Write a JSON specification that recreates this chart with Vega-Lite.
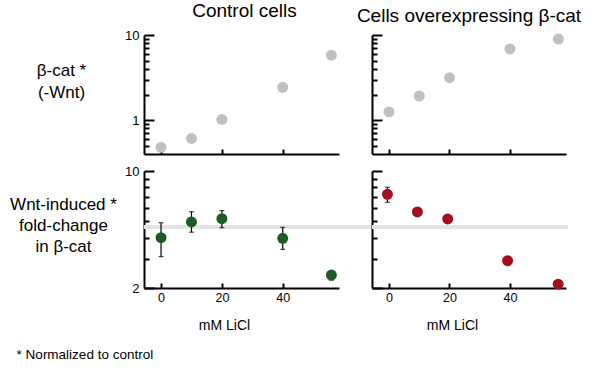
{
  "$schema": "https://vega.github.io/schema/vega-lite/v6.json",
  "background": "white",
  "padding": {"left": 9, "top": 2, "right": 5, "bottom": 5},
  "config": {
    "font": "Liberation Sans",
    "view": {"stroke": null},
    "axis": {"domainColor": "black", "domainWidth": 2, "tickColor": "black", "tickWidth": 2, "labelColor": "black", "labelFontSize": 13, "titleColor": "black", "grid": false, "labelFont": "Liberation Sans", "titleFont": "Liberation Sans", "titleFontWeight": "normal", "labelOverlap": false, "zindex": 1},
    "title": {"font": "Liberation Sans", "fontWeight": "normal", "color": "black"}
  },
  "datasets": {
    "ctrl_basal": [
      {"licl": 0, "bcat": 0.48}, {"licl": 10, "bcat": 0.61}, {"licl": 20, "bcat": 1.02}, {"licl": 40, "bcat": 2.43}, {"licl": 56, "bcat": 5.8}
    ],
    "over_basal": [
      {"licl": 0, "bcat": 1.25}, {"licl": 10, "bcat": 1.92}, {"licl": 20, "bcat": 3.15}, {"licl": 40, "bcat": 6.85}, {"licl": 56, "bcat": 8.97}
    ],
    "ctrl_wnt": [
      {"licl": 0, "fold": 4.0, "lo": 3.08, "hi": 4.91},
      {"licl": 10, "fold": 4.96, "lo": 4.31, "hi": 5.71},
      {"licl": 20, "fold": 5.19, "lo": 4.58, "hi": 5.8},
      {"licl": 40, "fold": 3.96, "lo": 3.4, "hi": 4.61},
      {"licl": 56, "fold": 2.39, "lo": 2.23, "hi": 2.53}
    ],
    "over_wnt": [
      {"licl": -0.5, "fold": 7.26, "lo": 6.5, "hi": 8.0},
      {"licl": 9.4, "fold": 5.69, "lo": 5.6, "hi": 5.8},
      {"licl": 19.4, "fold": 5.17, "lo": 5.1, "hi": 5.25},
      {"licl": 39.2, "fold": 2.91, "lo": 2.86, "hi": 2.97},
      {"licl": 55.9, "fold": 2.11, "lo": 2.05, "hi": 2.2}
    ]
  },
  "title": {"text": "* Normalized to control", "orient": "bottom", "anchor": "start", "frame": "bounds", "fontSize": 13.5, "offset": 16, "dx": 7},
  "spacing": {"row": 17, "column": 33},
  "bounds": "flush",
  "columns": 2,
  "concat": [
    {
      "width": 195, "height": 119,
      "title": {"text": "Control cells", "fontSize": 19, "baseline": "alphabetic", "offset": -7, "dx": 3},
      "data": {"name": "ctrl_basal"},
      "mark": {"type": "circle", "size": 120, "color": "#c0c0c0", "opacity": 1},
      "encoding": {
        "x": {"field": "licl", "type": "quantitative", "scale": {"domain": [-5.6, 58.5], "nice": false, "zero": false}, "axis": {"values": [0, 20, 40], "labels": false, "title": null, "tickSize": -5}},
        "y": {"field": "bcat", "type": "quantitative", "scale": {"type": "log", "domain": [0.4, 10], "nice": false},
          "axis": {"values": [0.5, 0.6, 0.7, 0.8, 0.9, 1, 2, 3, 4, 5, 6, 7, 8, 9, 10],
            "tickSize": {"condition": {"test": "datum.value === 1 || datum.value === 10", "value": -10}, "value": -5},
            "labelExpr": "datum.value === 1 || datum.value === 10 ? datum.label : ''",
            "labelPadding": 15,
            "title": ["β-cat *", "(-Wnt)"], "titleAngle": 0, "titleAlign": "center", "titleBaseline": "alphabetic", "titleX": -83, "titleY": 40, "titleFontSize": 17, "titleLineHeight": 22}}
      }
    },
    {
      "width": 194, "height": 119,
      "title": {"text": "Cells overexpressing β-cat", "fontSize": 19, "baseline": "alphabetic", "offset": -7},
      "data": {"name": "over_basal"},
      "mark": {"type": "circle", "size": 120, "color": "#c0c0c0", "opacity": 1},
      "encoding": {
        "x": {"field": "licl", "type": "quantitative", "scale": {"domain": [-5.6, 58.5], "nice": false, "zero": false}, "axis": {"values": [0, 20, 40], "labels": false, "title": null, "tickSize": -5}},
        "y": {"field": "bcat", "type": "quantitative", "scale": {"type": "log", "domain": [0.4, 10], "nice": false},
          "axis": {"values": [0.5, 0.6, 0.7, 0.8, 0.9, 1, 2, 3, 4, 5, 6, 7, 8, 9, 10],
            "tickSize": {"condition": {"test": "datum.value === 1 || datum.value === 10", "value": -10}, "value": -5},
            "labels": false, "title": null}}
      }
    },
    {
      "width": 195, "height": 117,
      "data": {"name": "ctrl_wnt"},
      "encoding": {
        "x": {"field": "licl", "type": "quantitative", "scale": {"domain": [-5.6, 58.5], "nice": false, "zero": false},
          "axis": {"values": [0, 20, 40], "tickSize": -5, "labelPadding": 8, "labelFontSize": 12.5, "title": "mM LiCl", "titleFontSize": 14, "titleX": 80, "titleY": 41, "titleBaseline": "alphabetic"}}
      },
      "layer": [
        {
          "mark": {"type": "rule", "color": "#e4e4e4", "strokeWidth": 3.5},
          "encoding": {"x": {"datum": -5.6}, "x2": {"datum": 72}, "y": {"datum": 4.65, "type": "quantitative", "scale": {"type": "log", "domain": [2, 10], "nice": false}}}
        },
        {
          "mark": {"type": "rule", "color": "black", "strokeWidth": 1.2},
          "encoding": {"y": {"field": "lo", "type": "quantitative"}, "y2": {"field": "hi"}}
        },
        {
          "mark": {"type": "tick", "orient": "horizontal", "size": 5, "thickness": 1.2, "color": "black"},
          "encoding": {"y": {"field": "lo", "type": "quantitative"}}
        },
        {
          "mark": {"type": "tick", "orient": "horizontal", "size": 5, "thickness": 1.2, "color": "black"},
          "encoding": {"y": {"field": "hi", "type": "quantitative"}}
        },
        {
          "mark": {"type": "circle", "size": 120, "color": "#1d5a24", "opacity": 1},
          "encoding": {"y": {"field": "fold", "type": "quantitative", "scale": {"type": "log", "domain": [2, 10], "nice": false},
            "axis": {"values": [2, 3, 4, 5, 6, 7, 8, 9, 10],
              "tickSize": {"condition": {"test": "datum.value === 2 || datum.value === 10", "value": -10}, "value": -5},
              "labelExpr": "datum.value === 2 || datum.value === 10 ? datum.label : ''",
              "labelPadding": 15,
              "title": ["Wnt-induced *", "fold-change", "in β-cat"], "titleAngle": 0, "titleAlign": "center", "titleBaseline": "alphabetic", "titleX": -81, "titleY": 38, "titleFontSize": 17, "titleLineHeight": 21}}}
        }
      ]
    },
    {
      "width": 194, "height": 117,
      "data": {"name": "over_wnt"},
      "encoding": {
        "x": {"field": "licl", "type": "quantitative", "scale": {"domain": [-5.6, 58.5], "nice": false, "zero": false},
          "axis": {"values": [0, 20, 40], "tickSize": -5, "labelPadding": 8, "labelFontSize": 12.5, "title": "mM LiCl", "titleFontSize": 14, "titleX": 80, "titleY": 41, "titleBaseline": "alphabetic"}}
      },
      "layer": [
        {
          "mark": {"type": "rule", "color": "#e4e4e4", "strokeWidth": 3.5},
          "encoding": {"x": {"datum": -5.6}, "x2": {"datum": 59}, "y": {"datum": 4.65, "type": "quantitative", "scale": {"type": "log", "domain": [2, 10], "nice": false}}}
        },
        {
          "mark": {"type": "rule", "color": "black", "strokeWidth": 1.2},
          "encoding": {"y": {"field": "lo", "type": "quantitative"}, "y2": {"field": "hi"}}
        },
        {
          "mark": {"type": "tick", "orient": "horizontal", "size": 5, "thickness": 1.2, "color": "black"},
          "encoding": {"y": {"field": "lo", "type": "quantitative"}}
        },
        {
          "mark": {"type": "tick", "orient": "horizontal", "size": 5, "thickness": 1.2, "color": "black"},
          "encoding": {"y": {"field": "hi", "type": "quantitative"}}
        },
        {
          "mark": {"type": "circle", "size": 120, "color": "#a30f1f", "opacity": 1},
          "encoding": {"y": {"field": "fold", "type": "quantitative", "scale": {"type": "log", "domain": [2, 10], "nice": false},
            "axis": {"values": [2, 3, 4, 5, 6, 7, 8, 9, 10],
              "tickSize": {"condition": {"test": "datum.value === 2 || datum.value === 10", "value": -10}, "value": -5},
              "labels": false, "title": null}}}
        }
      ]
    }
  ]
}
